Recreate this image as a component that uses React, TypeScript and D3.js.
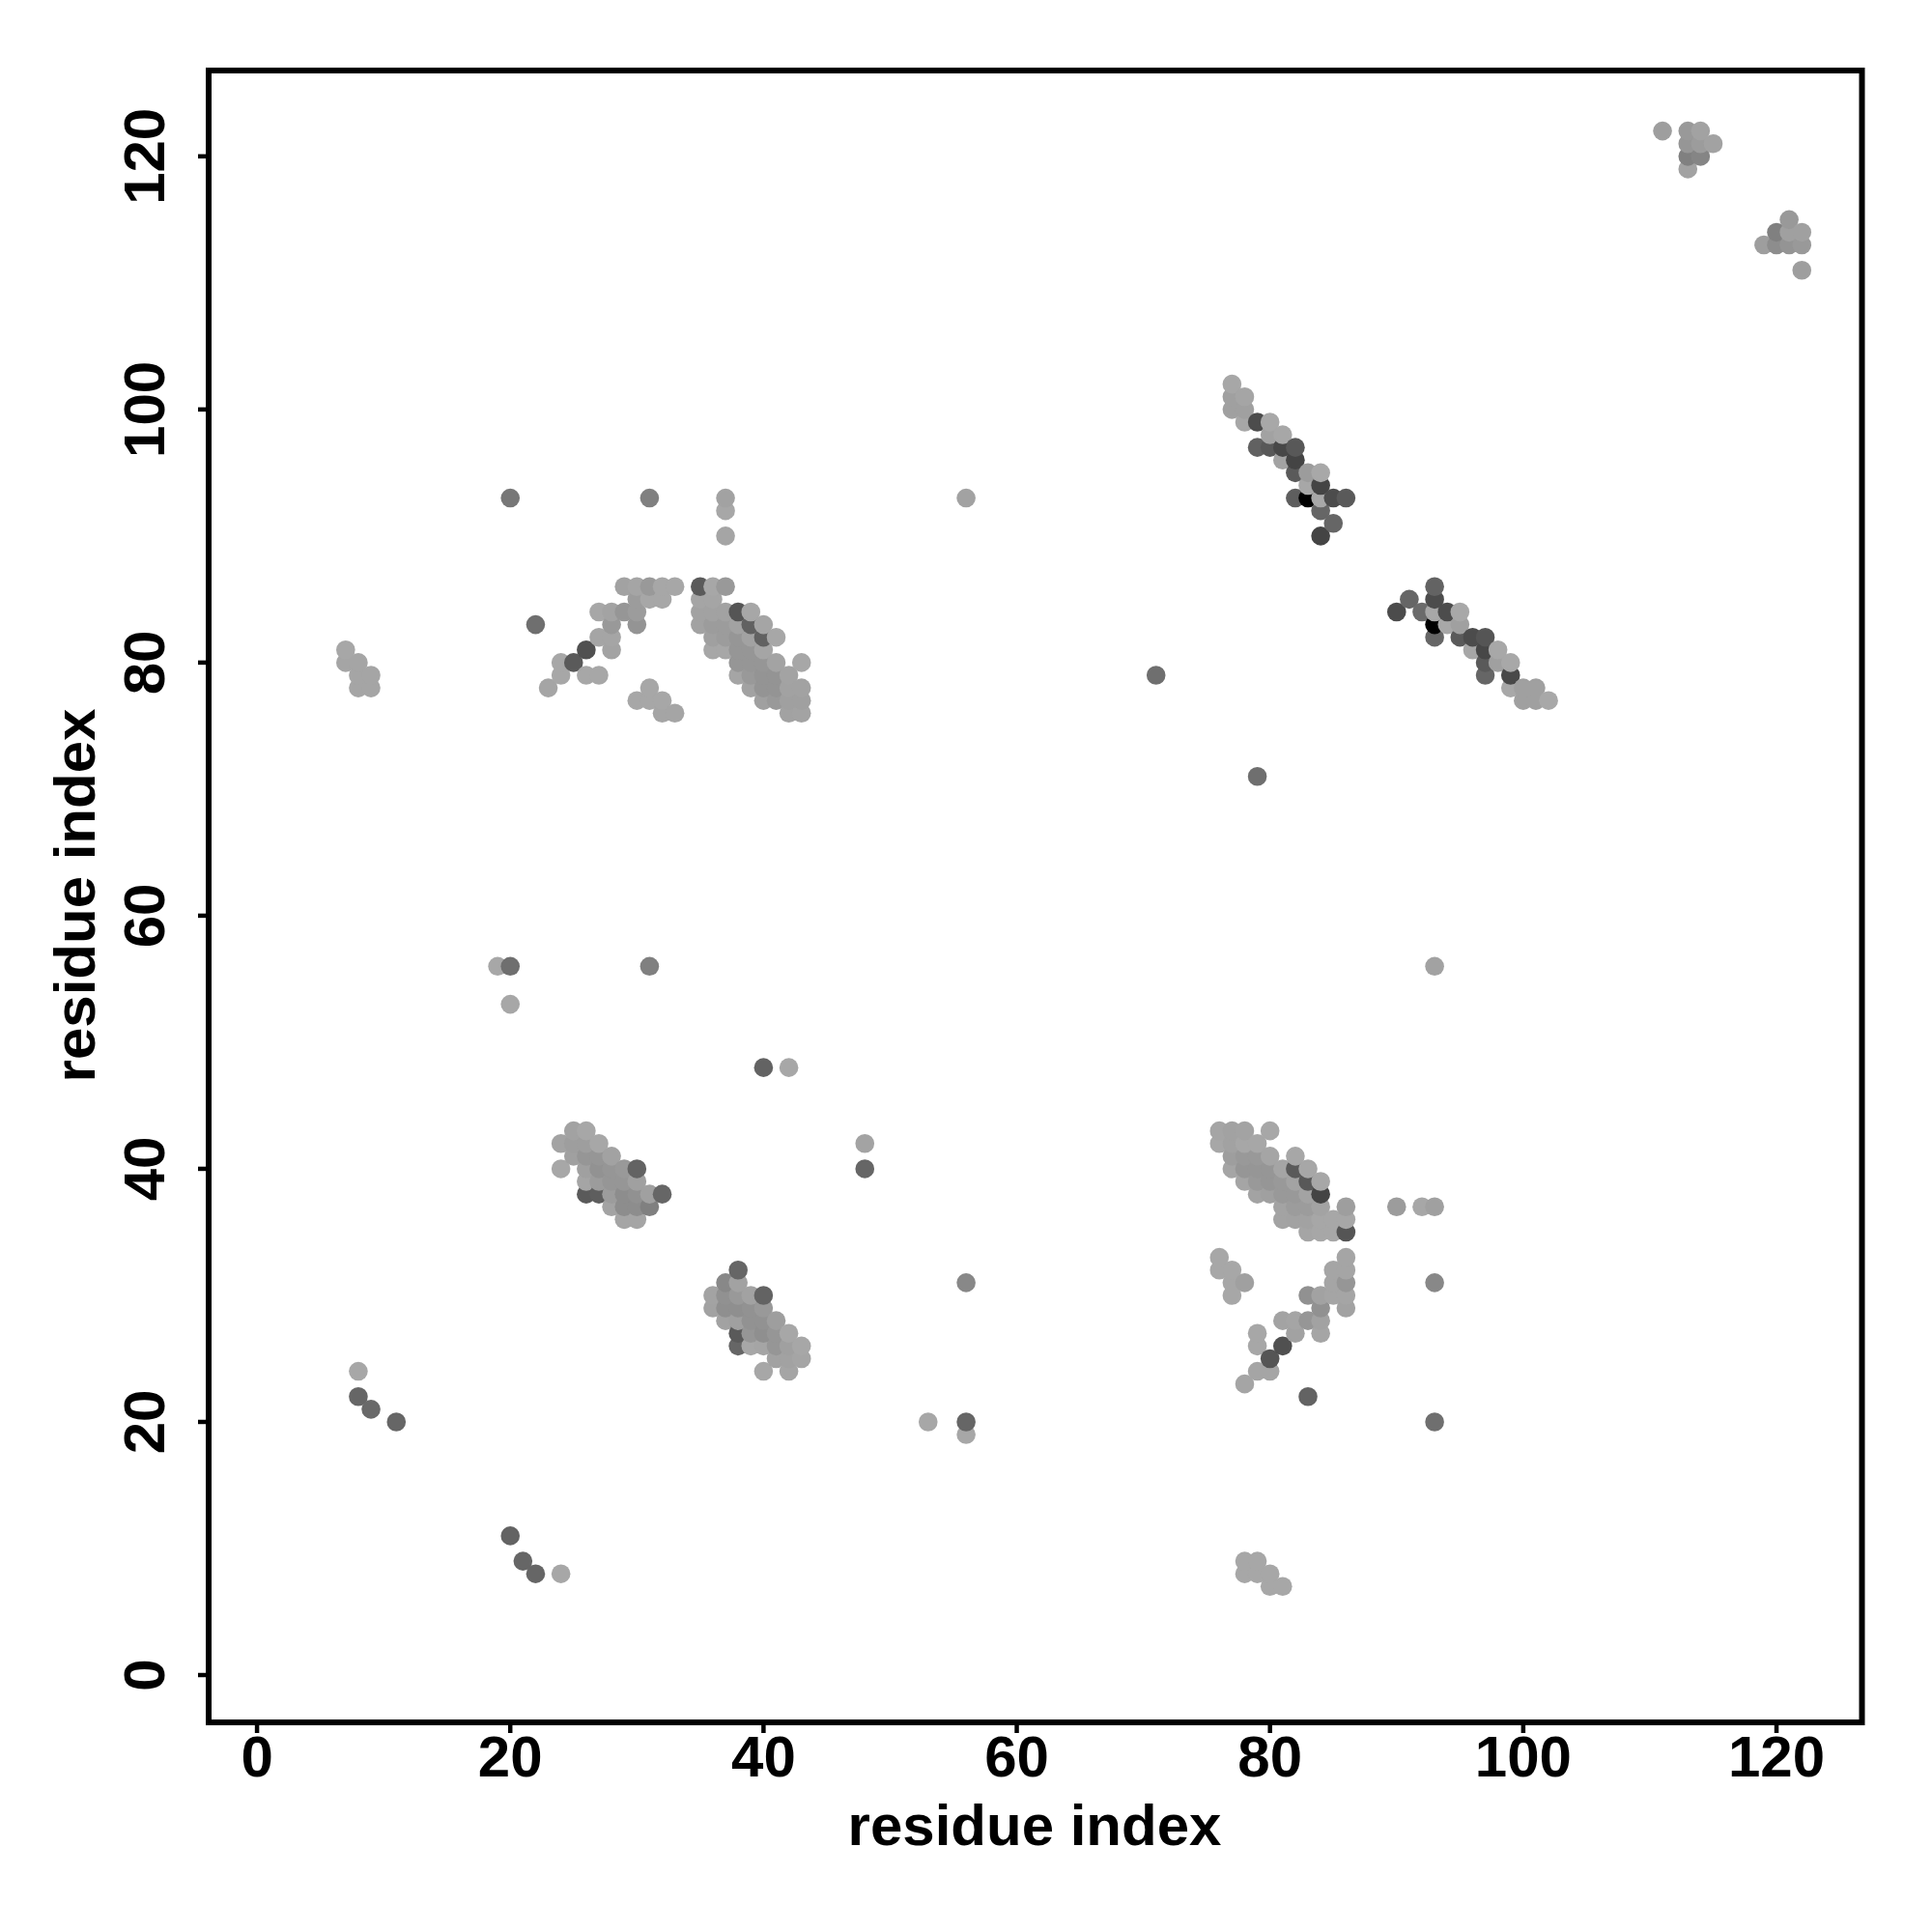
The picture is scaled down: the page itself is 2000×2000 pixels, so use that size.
import React, { useRef, useEffect } from 'react'
import * as d3 from "d3";

// [residue i, residue j, contact score] - 0 is the faintest contact, 1 the strongest
type Contact = [number, number, number];

const xTicks = [0, 20, 40, 60, 80, 100, 120];
const yTicks = [0, 20, 40, 60, 80, 100, 120];
const xLabel = "residue index";
const yLabel = "residue index";

const isolatedContacts: Contact[] = [
  [20, 93, .3], [31, 93, .25], [37, 93, .05], [37, 92, .02], [37, 90, .03], [56, 93, .05],
  [71, 79, .35], [79, 71, .35], [22, 83, .35],
  [19, 56, .02], [20, 56, .35], [31, 56, .25], [93, 56, .05], [20, 53, .02],
  [40, 48, .42], [42, 48, .02], [48, 42, .04], [48, 40, .4],
  [56, 31, .2], [93, 31, .2], [53, 20, .02], [56, 20, .4], [56, 19, .02], [93, 20, .35],
  [8, 24, .02], [8, 22, .4], [9, 21, .38], [11, 20, .4], [83, 22, .42],
  [20, 11, .42], [21, 9, .4], [22, 8, .4], [24, 8, .02],
  [90, 37, .08], [92, 37, .02], [93, 37, .06],
];

const sideClusterA: Contact[] = [
  [7, 81, .02], [7, 80, .03], [8, 80, .03], [8, 79, .03], [9, 79, .03], [8, 78, .03], [9, 78, .03],
];

const sideClusterB: Contact[] = [
  [78, 9, .02], [79, 9, .02], [78, 8, .02], [79, 8, .02], [80, 8, .02], [80, 7, .02], [81, 7, .02],
];

const strandUpperLeft: Contact[] = [
  [23, 78, .03], [24, 80, .02], [24, 79, .02], [25, 80, .47], [26, 81, .53], [26, 79, .02], [27, 79, .02],
  [27, 84, .02], [27, 82, .03], [28, 84, .04], [28, 83, .1], [28, 82, .03], [28, 81, .04],
  [29, 86, .05], [29, 84, .12], [30, 86, .03], [30, 85, .08], [30, 84, .08], [30, 83, .13],
  [31, 86, .1], [31, 85, .02], [32, 86, .02], [32, 85, .02], [33, 86, .02],
  [31, 78, .02], [30, 77, .02], [31, 77, .02], [32, 77, .02], [32, 76, .03], [33, 76, .03],
];

const strandUpperRight: Contact[] = [
  [35, 86, .47], [36, 86, .02], [37, 86, .1],
  [35, 85, .03], [36, 85, .03],
  [35, 84, .05], [36, 84, .05], [37, 84, .05], [38, 84, .5], [39, 84, .02],
  [35, 83, .05], [36, 83, .08], [37, 83, .08], [38, 83, .05], [39, 83, .43], [40, 83, .03],
  [36, 82, .06], [37, 82, .08], [38, 82, .12], [39, 82, .05], [40, 82, .43], [41, 82, .02],
  [36, 81, .02], [37, 81, .02], [38, 81, .12], [39, 81, .12], [40, 81, .03],
  [38, 80, .12], [39, 80, .12], [40, 80, .12], [41, 80, .04], [43, 80, .02],
  [38, 79, .03], [39, 79, .1], [40, 79, .13], [41, 79, .13], [42, 79, .04],
  [39, 78, .05], [40, 78, .13], [41, 78, .13], [42, 78, .05], [43, 78, .05],
  [40, 77, .06], [41, 77, .1], [42, 77, .06], [43, 77, .06],
  [42, 76, .05], [43, 76, .04],
];

const patchLowerLeft: Contact[] = [
  [25, 43, .05], [26, 43, .02],
  [24, 42, .04], [25, 42, .07], [26, 42, .07], [27, 42, .02],
  [25, 41, .06], [26, 41, .12], [27, 41, .12], [28, 41, .05],
  [24, 40, .02], [26, 40, .06], [27, 40, .14], [28, 40, .12], [29, 40, .1], [30, 40, .42],
  [26, 39, .03], [27, 39, .08], [28, 39, .12], [29, 39, .12], [30, 39, .06],
  [26, 38, .47], [27, 38, .45], [28, 38, .08], [29, 38, .17], [30, 38, .15], [31, 38, .06], [32, 38, .4],
  [28, 37, .04], [29, 37, .17], [30, 37, .17], [31, 37, .25],
  [29, 36, .03], [30, 36, .03],
];

const patchLowerMiddle: Contact[] = [
  [38, 32, .4],
  [37, 31, .2], [38, 31, .05],
  [36, 30, .04], [37, 30, .15], [38, 30, .1], [39, 30, .05], [40, 30, .42],
  [36, 29, .05], [37, 29, .16], [38, 29, .16], [39, 29, .14], [40, 29, .1],
  [37, 28, .05], [38, 28, .06], [39, 28, .14], [40, 28, .14], [41, 28, .07],
  [38, 27, .47], [39, 27, .12], [40, 27, .16], [41, 27, .12], [42, 27, .02],
  [38, 26, .4], [39, 26, .02], [40, 26, .03], [41, 26, .12], [42, 26, .06], [43, 26, .02],
  [41, 25, .05], [42, 25, .05], [43, 25, .03],
  [40, 24, .02], [42, 24, .03],
];

const patchLowerRight: Contact[] = [
  [76, 43, .03], [77, 43, .05], [78, 43, .04], [80, 43, .02],
  [76, 42, .02], [77, 42, .05], [78, 42, .02], [79, 42, .02],
  [77, 41, .07], [78, 41, .1], [79, 41, .1], [80, 41, .03], [82, 41, .02],
  [77, 40, .03], [78, 40, .12], [79, 40, .12], [80, 40, .12], [81, 40, .03], [82, 40, .47], [83, 40, .02],
  [78, 39, .03], [79, 39, .1], [80, 39, .12], [81, 39, .1], [82, 39, .04], [83, 39, .48], [84, 39, .02],
  [79, 38, .04], [80, 38, .06], [81, 38, .1], [82, 38, .1], [83, 38, .04], [84, 38, .6],
  [81, 37, .04], [82, 37, .08], [83, 37, .08], [84, 37, .04], [86, 37, .07],
  [81, 36, .04], [82, 36, .05], [83, 36, .05], [84, 36, .02], [85, 36, .02], [86, 36, .02],
  [83, 35, .03], [84, 35, .02], [85, 35, .02], [86, 35, .5],
];

const strandLowerRight: Contact[] = [
  [76, 33, .02], [86, 33, .03],
  [76, 32, .02], [77, 32, .02], [85, 32, .03], [86, 32, .03],
  [77, 31, .02], [78, 31, .06], [85, 31, .03], [86, 31, .12],
  [77, 30, .02], [83, 30, .15], [84, 30, .05], [85, 30, .03], [86, 30, .03],
  [84, 29, .15], [86, 29, .05],
  [81, 28, .04], [82, 28, .03], [83, 28, .12], [84, 28, .05],
  [79, 27, .02], [82, 27, .05], [84, 27, .03],
  [79, 26, .02], [81, 26, .53],
  [80, 25, .5],
  [79, 24, .03], [80, 24, .03],
  [78, 23, .03],
];

const diagonalUpperLeft: Contact[] = [
  [77, 102, .02], [77, 101, .06], [78, 101, .03], [77, 100, .06], [78, 100, .06], [78, 99, .02],
  [79, 99, .55], [80, 99, .01], [80, 98, .05], [81, 98, .02],
  [79, 97, .43], [80, 97, .48], [81, 97, .58], [82, 97, .48], [81, 96, .04], [82, 96, .6],
  [82, 95, .47], [83, 95, .08], [84, 95, .01], [83, 94, .02], [84, 94, .6],
  [82, 93, .45], [83, 93, 1], [84, 93, .01], [85, 93, .55], [86, 93, .47],
  [84, 92, .4], [85, 91, .4], [84, 90, .6],
];

const diagonalUpperRight: Contact[] = [
  [90, 84, .55], [91, 85, .4], [92, 84, .37], [93, 86, .42], [93, 85, .55], [93, 84, .01], [93, 83, 1], [93, 82, .4],
  [94, 84, .55], [94, 83, .01], [95, 84, .01], [95, 83, .06], [95, 82, .47],
  [96, 82, .55], [96, 81, .02], [97, 82, .5], [97, 81, .58], [97, 80, .47], [97, 79, .4],
  [98, 81, .01], [98, 80, .06], [99, 80, .01], [99, 79, .57], [99, 78, .01],
  [100, 78, .06], [100, 77, .06], [101, 78, .06], [101, 77, .06], [102, 77, .01],
];

const cornerClusterA: Contact[] = [
  [111, 122, .07], [113, 122, .1], [114, 122, .05],
  [113, 121, .12], [114, 121, .08], [115, 121, .05],
  [113, 120, .25], [114, 120, .22], [113, 119, .05],
];

const cornerClusterB: Contact[] = [
  [121, 115, .1], [120, 114, .25], [121, 114, .06], [122, 114, .06],
  [119, 113, .07], [120, 113, .17], [121, 113, .13], [122, 113, .1], [122, 111, .07],
];

// later residues sit on top of earlier ones, same as the plotting order of the original
const contacts = d3.sort(
  [
    ...isolatedContacts, ...sideClusterA, ...sideClusterB,
    ...strandUpperLeft, ...strandUpperRight, ...strandLowerRight,
    ...patchLowerLeft, ...patchLowerMiddle, ...patchLowerRight,
    ...diagonalUpperLeft, ...diagonalUpperRight,
    ...cornerClusterA, ...cornerClusterB,
  ],
  (a, b) => d3.ascending(a[0], b[0]) || d3.ascending(a[1], b[1])
);

const App: React.FC = () => {
  const ref = useRef<SVGSVGElement | null>(null);

  useEffect(() => {
    if (!ref.current) return;
    const svg = d3.select(ref.current);
    svg.selectAll("*").remove();

    const font = "'Liberation Sans', Arial, sans-serif";

    const xScale = d3.scaleLinear().domain([-3.82, 126.75]).range([216, 1927.5]);
    const yScale = d3.scaleLinear().domain([-3.74, 126.78]).range([1783, 73]);
    const greyScale = d3.scaleLinear<string>().domain([0, 1]).range(["#aaaaaa", "#000000"]);

    svg.append("g")
      .selectAll("circle")
      .data(contacts)
      .join("circle")
      .attr("cx", d => xScale(d[0]))
      .attr("cy", d => yScale(d[1]))
      .attr("r", 9.8)
      .attr("fill", d => greyScale(d[2]));

    // frame
    svg.append("rect")
      .attr("x", xScale.range()[0])
      .attr("y", yScale.range()[1])
      .attr("width", xScale.range()[1] - xScale.range()[0])
      .attr("height", yScale.range()[0] - yScale.range()[1])
      .attr("fill", "none")
      .attr("stroke", "#000")
      .attr("stroke-width", 6);

    const xAxis = svg.append("g")
      .attr("transform", `translate(0, ${yScale.range()[0]})`)
      .call(d3.axisBottom(xScale).tickValues(xTicks).tickFormat(d3.format("d")).tickSize(11).offset(0));

    const yAxis = svg.append("g")
      .attr("transform", `translate(${xScale.range()[0]}, 0)`)
      .call(d3.axisLeft(yScale).tickValues(yTicks).tickFormat(d3.format("d")).tickSize(11).offset(0));

    [xAxis, yAxis].forEach(axis => {
      axis.select(".domain").remove();
      axis.selectAll("line").attr("stroke", "#000").attr("stroke-width", 4.5);
      axis.selectAll("text")
        .attr("fill", "#000")
        .style("font-family", font)
        .style("font-weight", "bold")
        .style("font-size", "60px");
    });

    // y tick labels are rotated like base R's default las=0
    yAxis.selectAll("text")
      .attr("text-anchor", "middle")
      .attr("x", 0)
      .attr("y", 0)
      .attr("dy", 0)
      .attr("transform", "translate(-46, 0) rotate(-90)");

    xAxis.selectAll("text").attr("y", 13).attr("dy", "0.71em");

    svg.append("text")
      .attr("x", 1071)
      .attr("y", 1910)
      .attr("text-anchor", "middle")
      .style("font-family", font)
      .style("font-weight", "bold")
      .style("font-size", "60px")
      .text(xLabel);

    svg.append("text")
      .attr("transform", "translate(98, 927) rotate(-90)")
      .attr("text-anchor", "middle")
      .style("font-family", font)
      .style("font-weight", "bold")
      .style("font-size", "60px")
      .text(yLabel);
  }, []);

  return (
    <svg
      ref={ref}
      width={2000}
      height={2000}
      style={{ position: "absolute", top: 0, left: 0, background: "#fff" }}
    />
  )
}

export default App;
